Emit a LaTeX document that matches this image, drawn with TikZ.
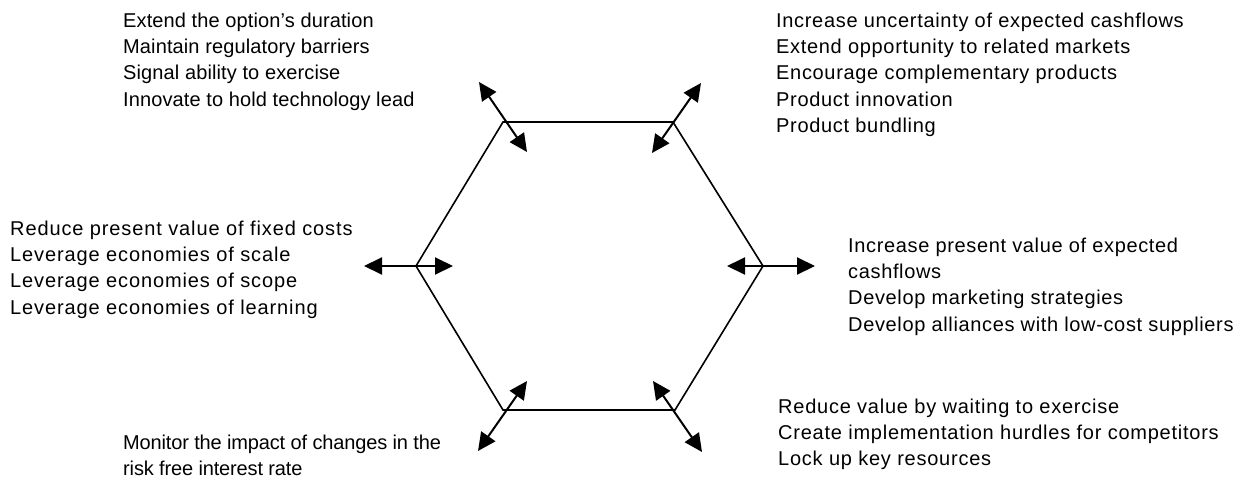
\documentclass[tikz,border=0pt]{standalone}
\usepackage{fontspec}
\setmainfont{Liberation Sans}
\usetikzlibrary{arrows.meta}
\newcommand\firststrut{\rule{0pt}{15pt}}
\newcommand\spaced[1]{\addfontfeature{LetterSpace=#1}}
\tikzset{
  hexedge/.style={line width=1.6pt, line join=miter},
  lever/.style={line width=2pt, {Triangle[length=18pt,width=17pt]}-{Triangle[length=18pt,width=17pt]}},
  notes/.style={anchor=north west, inner sep=0pt, align=left,
    font=\fontsize{20pt}{26.3pt}\selectfont\spaced{#1}}
}
\begin{document}
\begin{tikzpicture}[x=1pt,y=-1pt]
\useasboundingbox (0,0) rectangle (1245,493);

% hexagon corners
\coordinate (v1) at (503,122);
\coordinate (v2) at (673,122);
\coordinate (v3) at (763,266);
\coordinate (v4) at (675,410);
\coordinate (v5) at (503,410);
\coordinate (v6) at (416,266);
\draw[hexedge] (v1) -- (v2) -- (v3) -- (v4) -- (v5) -- (v6) -- cycle;

% two-headed arrows through the corners
\coordinate (a1o) at (479,82);  \coordinate (a1i) at (527,152);
\coordinate (a2o) at (701,83);  \coordinate (a2i) at (652,153);
\coordinate (a3o) at (815,266); \coordinate (a3i) at (727,266);
\coordinate (a4o) at (702,452); \coordinate (a4i) at (653,381);
\coordinate (a5o) at (478,451); \coordinate (a5i) at (527,381);
\coordinate (a6o) at (364,266); \coordinate (a6i) at (453,266);
\foreach \k in {1,...,6} \draw[lever] (a\k o) -- (a\k i);

% lever descriptions
\node[notes=0.6] (tl) at (123,12) {\firststrut Extend the option’s duration\\
  Maintain regulatory barriers\\ Signal ability to exercise\\
  Innovate to hold technology lead};
\node[notes=3.4] (tr) at (776,12) {\firststrut Increase uncertainty of expected cashflows\\
  Extend opportunity to related markets\\ Encourage complementary products\\
  Product innovation\\ Product bundling};
\node[notes=4.4] (lf) at (10,220) {\firststrut Reduce present value of fixed costs\\
  Leverage economies of scale\\ Leverage economies of scope\\
  Leverage economies of learning};
\node[notes=3.2] (rt) at (848,237) {\firststrut Increase present value of expected\\
  cashflows\\ Develop marketing strategies\\
  Develop alliances with low-cost suppliers};
\node[notes=-0.8] (bl) at (123,434) {\firststrut Monitor the impact of changes in the\\
  risk free interest rate};
\node[notes=3.8] (br) at (778,398) {\firststrut Reduce value by waiting to exercise\\
  Create implementation hurdles for competitors\\ Lock up key resources};
\end{tikzpicture}
\end{document}
